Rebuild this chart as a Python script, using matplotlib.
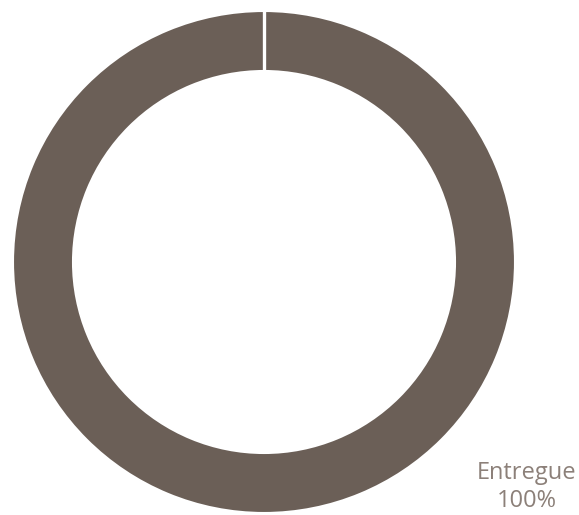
import matplotlib.pyplot as plt

labels = ['Entregue']
values = [100]
colors = ['#6B5F57']

fig = plt.figure(figsize=(5.79, 5.15), dpi=100)
ax = fig.add_axes([0, 0, 1, 1])

cx, cy, r_out, ring = 264, 253, 251, 60
ax.pie(values, colors=colors, startangle=90, counterclock=False,
       center=(cx, cy), radius=r_out, frame=True,
       wedgeprops=dict(width=ring, edgecolor='white', linewidth=1.5))
# white seam where the single slice starts and ends
ax.plot([cx, cx], [cy + r_out - ring - 2, cy + r_out + 2], color='white', lw=2.4,
        solid_capstyle='butt')
ax.set_xlim(0, 579)
ax.set_ylim(0, 515)
ax.set_aspect('equal')
ax.axis('off')

for lab, v in zip(labels, values):
    ax.text(527, 28, f'{lab}\n{v}%', ha='center', va='center',
            fontsize=17, color='#8C8079', family='Open Sans', linespacing=1.2)

fig.savefig('out.png', dpi=100)
